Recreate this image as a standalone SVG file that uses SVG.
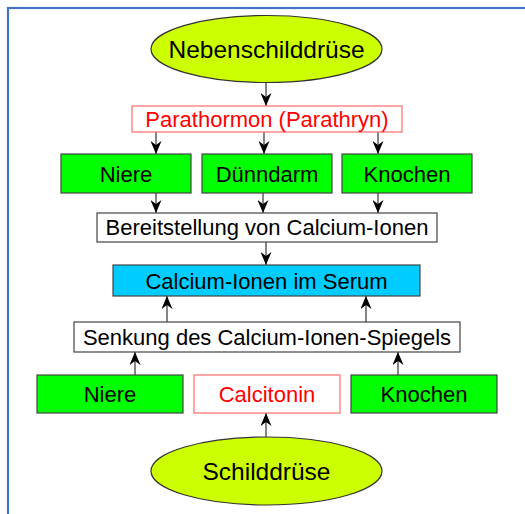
<svg xmlns="http://www.w3.org/2000/svg" width="525" height="514" viewBox="0 0 525 514">
<defs>
<marker id="ah" viewBox="0 0 13 11" refX="13" refY="5.5" markerWidth="13" markerHeight="11" markerUnits="userSpaceOnUse" orient="auto">
<path d="M0,0 L13,5.5 L0,11 L4,5.5 z" fill="#000"/>
</marker>
<style>
text{font-family:"Liberation Sans",Arial,sans-serif;text-anchor:middle;fill:#000}
.big{font-size:24.5px}
.t{font-size:22px}
.red{fill:#ff0000}
.ell{fill:#ccff00;stroke:#333;stroke-width:1.2}
.grn{fill:#00ff00;stroke:#444;stroke-width:1.2}
.wht{fill:#fff;stroke:#444;stroke-width:1.2}
.rbox{fill:#fff;stroke:#ff6a6a;stroke-width:1.2}
.blu{fill:#00ccff;stroke:#444;stroke-width:1.2}
.c line{stroke:#333;stroke-width:1.2;marker-end:url(#ah)}
</style>
</defs>
<rect x="8" y="8" width="560" height="560" fill="#fff" stroke="#4472c4" stroke-width="2.2"/>
<g class="c" id="connectors">
<line x1="266" y1="83" x2="266" y2="106"/>
<line x1="156" y1="132" x2="156" y2="154"/>
<line x1="264" y1="132" x2="264" y2="154"/>
<line x1="378" y1="132" x2="378" y2="154"/>
<line x1="156" y1="193" x2="156" y2="213"/>
<line x1="263" y1="193" x2="263" y2="213"/>
<line x1="378" y1="193" x2="378" y2="213"/>
<line x1="266" y1="242" x2="266" y2="265"/>
<line x1="167" y1="322" x2="167" y2="296"/>
<line x1="366" y1="322" x2="366" y2="296"/>
<line x1="135" y1="375" x2="135" y2="352"/>
<line x1="398" y1="375" x2="398" y2="352"/>
<line x1="266" y1="437" x2="266" y2="413"/>
</g>
<g id="nebenschilddruese"><ellipse class="ell" cx="266.5" cy="49" rx="115.5" ry="33.5"/><text class="big" x="266.5" y="57.5">Nebenschilddrüse</text></g>
<g id="parathormon"><rect class="rbox" x="132" y="106" width="270" height="26"/><text class="t red" x="267" y="127">Parathormon (Parathryn)</text></g>
<g id="niere1"><rect class="grn" x="61" y="154" width="130" height="39"/><text class="t" x="126" y="181.5">Niere</text></g>
<g id="duenndarm"><rect class="grn" x="202" y="154" width="130" height="39"/><text class="t" x="267" y="181.5">Dünndarm</text></g>
<g id="knochen1"><rect class="grn" x="342" y="154" width="130" height="39"/><text class="t" x="407" y="181.5">Knochen</text></g>
<g id="bereitstellung"><rect class="wht" x="97" y="213" width="340" height="29"/><text class="t" x="267" y="235">Bereitstellung von Calcium-Ionen</text></g>
<g id="serum"><rect class="blu" x="113" y="265" width="307" height="31"/><text class="t" x="266.5" y="288.5">Calcium-Ionen im Serum</text></g>
<g id="senkung"><rect class="wht" x="74" y="322" width="386" height="30"/><text class="t" x="267" y="345">Senkung des Calcium-Ionen-Spiegels</text></g>
<g id="niere2"><rect class="grn" x="37" y="375" width="146" height="38"/><text class="t" x="110" y="402">Niere</text></g>
<g id="calcitonin"><rect class="rbox" x="194" y="375" width="146" height="38"/><text class="t red" x="267" y="402">Calcitonin</text></g>
<g id="knochen2"><rect class="grn" x="351" y="375" width="146" height="38"/><text class="t" x="424" y="402">Knochen</text></g>
<g id="schilddruese"><ellipse class="ell" cx="266.5" cy="471" rx="115.5" ry="34"/><text class="big" x="266.5" y="479.5">Schilddrüse</text></g>
</svg>
